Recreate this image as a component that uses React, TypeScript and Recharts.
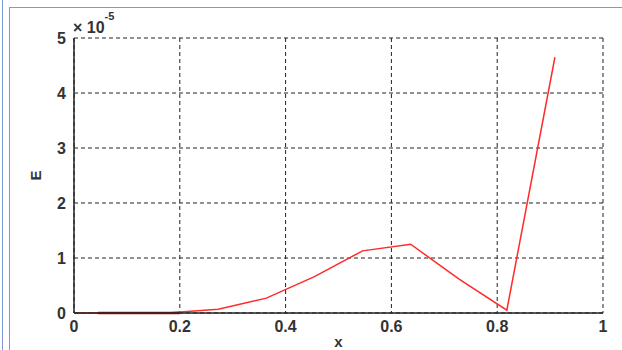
import {
  CartesianGrid,
  Customized,
  Line,
  LineChart,
  XAxis,
  YAxis,
} from "recharts";

// x positions of the samples
const xs = [0, 0.0455, 0.0909, 0.1818, 0.2, 0.2727, 0.3636, 0.4545, 0.5455, 0.6364, 0.7273, 0.8182, 0.9091];
// E values, in units of 1e-5
const eValues = [0, 0, 0, 0.005, null, 0.07, 0.27, 0.66, 1.13, 1.25, 0.62, 0.05, 4.65];
// short darker segment lying on the axis
const eOverlay = [null, 0, 0, 0, 0, null, null, null, null, null, null, null, null];

const xTicks = [0, 0.2, 0.4, 0.6, 0.8, 1];
const yTicks = [0, 1, 2, 3, 4, 5];

const data = xs.map((x, i) => ({ x, e: eValues[i], e0: eOverlay[i] }));

const font = '"Liberation Sans", Arial, sans-serif';
const tickStyle = { fill: "#333", fontSize: 16, fontWeight: 600, fontFamily: font };

function Exponent() {
  return (
    <text x={73} y={33} fill="#333" fontFamily={font} fontWeight={600} fontSize={16}>
      × 10
      <tspan dy={-13} fontSize={11}>
        -5
      </tspan>
    </text>
  );
}

export default function App() {
  return (
    <div style={{ position: "fixed", left: 0, top: 0, width: 622, height: 350, background: "#fff", overflow: "hidden" }}>
      <div style={{ position: "absolute", left: 2, top: 0, width: 1, height: 350, background: "#7a9ad0" }} />
      <div style={{ position: "absolute", left: 9, top: 7, width: 1, height: 343, background: "#7a9ad0" }} />
      <div style={{ position: "absolute", left: 9, top: 7, width: 613, height: 1, background: "#7a9ad0" }} />
      <LineChart
        width={622}
        height={350}
        data={data}
        margin={{ top: 38, right: 19, bottom: 7, left: 14 }}
        style={{ position: "absolute", left: 0, top: 0 }}
      >
        <CartesianGrid stroke="#222" strokeDasharray="4 3" />
        <XAxis
          dataKey="x"
          type="number"
          domain={[0, 1]}
          ticks={xTicks}
          tickLine={false}
          axisLine={{ stroke: "#222", strokeWidth: 1.5 }}
          tick={tickStyle}
          height={30}
          label={{ value: "x", position: "bottom", offset: -7, style: { fill: "#333", fontSize: 15, fontWeight: 600, fontFamily: font } }}
        />
        <XAxis
          xAxisId="top"
          orientation="top"
          dataKey="x"
          type="number"
          domain={[0, 1]}
          ticks={xTicks}
          tick={false}
          tickLine={false}
          axisLine={{ stroke: "#222", strokeWidth: 1.5 }}
          height={0}
        />
        <YAxis
          type="number"
          domain={[0, 5]}
          ticks={yTicks}
          tickLine={false}
          axisLine={{ stroke: "#222", strokeWidth: 1.5 }}
          tick={tickStyle}
          width={60}
          label={{
            value: "E",
            angle: -90,
            position: "insideLeft",
            offset: 22,
            style: { fill: "#333", fontSize: 15, fontWeight: 600, fontFamily: font, textAnchor: "middle" },
          }}
        />
        <YAxis
          yAxisId="right"
          orientation="right"
          type="number"
          domain={[0, 5]}
          ticks={yTicks}
          tick={false}
          tickLine={false}
          axisLine={{ stroke: "#222", strokeWidth: 1.5 }}
          width={0}
        />
        <Line
          dataKey="e"
          type="linear"
          stroke="#ff2a2a"
          strokeWidth={1.5}
          dot={false}
          connectNulls
          isAnimationActive={false}
        />
        <Line
          dataKey="e0"
          type="linear"
          stroke="#b01818"
          strokeWidth={2.5}
          dot={false}
          isAnimationActive={false}
        />
        <Customized component={Exponent} />
      </LineChart>
    </div>
  );
}
